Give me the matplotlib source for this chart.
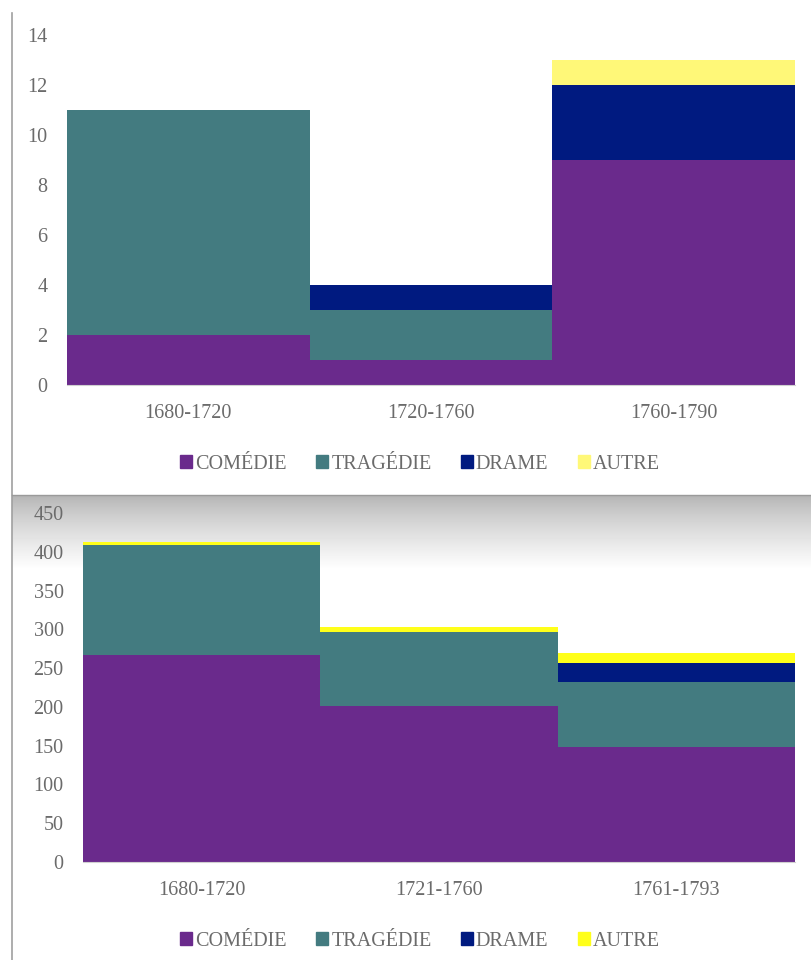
import numpy as np
import matplotlib.pyplot as plt
from matplotlib.lines import Line2D
from matplotlib.patches import Patch

# données
genres = ['COMÉDIE', 'TRAGÉDIE', 'DRAME', 'AUTRE']

periodes_1 = ['1680-1720', '1720-1760', '1760-1790']
comedie_1 = [2, 1, 9]
tragedie_1 = [9, 2, 0]
drame_1 = [0, 1, 3]
autre_1 = [0, 0, 1]

periodes_2 = ['1680-1720', '1721-1760', '1761-1793']
comedie_2 = [267, 201, 148]
tragedie_2 = [142, 95, 84]
drame_2 = [0, 0, 25]
autre_2 = [3, 7, 13]

c_com = '#6a2a8c'
c_tra = '#437b80'
c_dra = '#001a80'
txt = '#6b6b6b'

plt.rcParams['font.family'] = ['Liberation Serif', 'DejaVu Serif']

fig = plt.figure(figsize=(8.11, 9.6), dpi=100)

# fond dégradé du second panneau
bg = fig.add_axes([12/811, 0, 1 - 12/811, 465/960], zorder=-5)
h = 465
grad = np.ones((h, 2))
top = np.linspace(0, 1, 75)
grad[:75, :] = (0.70 + 0.30 * top ** 0.8)[:, None]
bg.imshow(grad, cmap='gray', vmin=0, vmax=1, aspect='auto', extent=[0, 1, 0, 1])
bg.axis('off')

# bordures
fig.add_artist(Line2D([12/811, 12/811], [0, 1 - 13/960], color='#a0a0a0', lw=1.2))
fig.add_artist(Line2D([12/811, 1], [1 - 495/960] * 2, color='#9a9a9a', lw=1.0))


def panneau(ax, periodes, com, tra, dra, aut, c_aut, ymax, step, leg_y):
    x = np.arange(len(periodes))
    b1 = np.array(com)
    b2 = b1 + np.array(tra)
    b3 = b2 + np.array(dra)
    ax.bar(x, com, width=1.0, color=c_com)
    ax.bar(x, tra, width=1.0, bottom=b1, color=c_tra)
    ax.bar(x, dra, width=1.0, bottom=b2, color=c_dra)
    ax.bar(x, aut, width=1.0, bottom=b3, color=c_aut)
    ax.set_xlim(-0.5, len(periodes) - 0.5)
    ax.set_ylim(0, ymax)
    ax.set_yticks(np.arange(0, ymax + 1, step))
    ax.set_xticks(x)
    ax.set_xticklabels(periodes)
    for s in ['top', 'right', 'left']:
        ax.spines[s].set_visible(False)
    ax.spines['bottom'].set_color('#d0d0d0')
    ax.tick_params(length=0, labelsize=14.5, labelcolor=txt)
    ax.tick_params(axis='y', pad=14)
    ax.tick_params(axis='x', pad=14)
    ax.patch.set_alpha(0)
    handles = [Patch(color=c) for c in [c_com, c_tra, c_dra, c_aut]]
    ax.legend(handles, genres, loc='center', bbox_to_anchor=(420/811, 1 - leg_y/960),
              bbox_transform=fig.transFigure,
              ncol=4, frameon=False, fontsize=14.5, labelcolor=txt,
              handlelength=0.6, handleheight=0.6, handletextpad=0.15,
              columnspacing=1.45)


ax1 = fig.add_axes([67/811, 1 - 385/960, 728/811, 350/960])
panneau(ax1, periodes_1, comedie_1, tragedie_1, drame_1, autre_1,
        '#fff878', 14, 2, 464)

ax2 = fig.add_axes([83/811, 1 - 862/960, 712/811, 349/960])
panneau(ax2, periodes_2, comedie_2, tragedie_2, drame_2, autre_2,
        '#ffff1a', 450, 50, 941)

fig.savefig('out.png', dpi=100)
